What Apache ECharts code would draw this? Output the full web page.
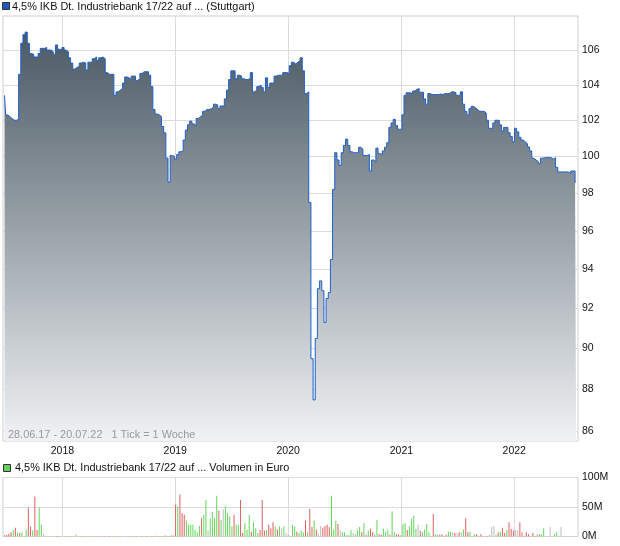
<!DOCTYPE html>
<html>
<head>
<meta charset="utf-8">
<script src="https://cdn.jsdelivr.net/npm/echarts@6/dist/echarts.min.js"></script>
<style>
html,body{margin:0;padding:0;background:#fff;}
#c{width:620px;height:546px;}
</style>
</head>
<body>
<div id="c"></div>
<script>
// ---- data (weekly, starting 28.06.2017) ----
const startDate = [2017, 5, 28];
const title = '4,5% IKB Dt. Industriebank 17/22 auf ... (Stuttgart)';
const volTitle = '4,5% IKB Dt. Industriebank 17/22 auf ... Volumen in Euro';
const rangeText = '28.06.17 - 20.07.22   1 Tick = 1 Woche';
const yearTicks = [2018, 2019, 2020, 2021, 2022];
const priceTicks = [86, 88, 90, 92, 94, 96, 98, 100, 102, 104, 106];
const volTicks = [0, 50, 100];

const prices = [
103.4,102.3,102.2,102.1,102.0,102.0,102.05,104.6,106.4,106.9,
107.05,106.4,105.8,105.75,105.6,105.6,105.8,106.1,106.1,106.15,
106.0,106.0,105.9,105.75,106.3,106.05,106.0,106.15,106.0,105.9,
105.55,105.25,104.9,105.0,105.05,105.25,105.3,105.25,104.85,105.3,
105.3,105.5,105.6,105.4,105.55,105.6,105.5,104.7,104.6,104.6,
104.6,103.4,103.6,103.7,103.8,104.1,104.45,104.4,104.3,104.5,
104.5,104.25,104.35,104.65,104.75,104.75,104.75,104.55,103.9,102.6,
102.35,102.3,102.2,101.65,101.3,99.9,98.6,100.05,100.0,99.85,
100.1,100.25,100.3,100.9,101.45,101.75,101.95,101.8,101.7,102.1,
102.2,102.3,102.5,102.6,102.6,102.65,102.75,102.9,102.85,102.65,
102.8,102.8,103.2,103.7,104.3,104.8,104.8,104.35,104.55,104.5,
104.35,104.3,104.3,104.38,104.7,103.6,103.7,103.9,103.98,103.85,
103.6,104.4,103.85,104.1,104.1,104.5,104.55,104.55,104.55,104.7,
104.7,104.65,105.1,105.3,105.2,105.3,105.4,105.55,104.8,103.5,
103.6,97.5,89.5,87.5,90.5,93.0,93.4,92.9,91.3,92.5,
92.8,94.5,98.2,100.2,99.8,99.5,100.2,100.6,100.95,100.6,
100.25,100.2,100.2,100.2,100.5,100.4,100.05,100.05,100.1,99.2,
99.8,99.7,100.45,100.15,100.1,100.3,100.5,100.75,101.6,101.85,
102.05,101.7,101.5,101.5,102.3,103.4,103.55,103.55,103.5,103.65,
103.75,103.78,103.58,103.58,103.2,102.9,103.5,103.45,103.45,103.45,
103.45,103.48,103.45,103.5,103.5,103.5,103.6,103.6,103.55,103.4,
103.4,103.6,102.9,102.5,102.3,102.65,102.78,102.7,102.6,102.5,
102.5,102.5,102.4,102.0,101.55,101.55,101.85,102.0,102.0,101.75,
101.4,101.6,101.6,101.3,101.1,100.8,101.55,101.35,101.05,100.9,
100.8,100.7,100.52,100.3,99.9,99.8,99.72,99.6,99.9,99.93,
99.93,99.93,99.93,99.85,99.93,99.4,99.15,99.15,99.15,99.15,
99.15,99.05,99.2,99.2,98.6
];

// volume in millions of euro
const volumes = [
2,3,4.5,7,11,15,7,6,7,1,11,49,17,10,68,11,49,20,4.5,
1,0.8,1,0.6,1,0.8,1,1,0.6,1,
0.8,1,1,0.6,3,1,0.8,1,0.6,1,
1,0.8,1,0.6,1,1,0.8,1,0.6,1,
1,0.8,0.6,1,1,0.8,1,0.6,1,1,
0.8,1,1,0.6,1,0.8,1,1,0.6,1,
1,1.2,1,0.8,1,1.5,1.2,1,1.5,2,
54,51,71,40,37,27,20,20,20,11,
7,18,31,37,62,10,31,42,31,69,
44,28,46,51,40,34,17,37,20,20,
62,6,23,11,37,8,24,14,6,11,
62,10,11,20,14,24,17,12,17,14,
17,6,2,1,20,17,8,6,10,7,
27,8,
47,16,27,12,5,18,15,18,20,16,
69,12,27,21,11,7,7,2,2,11,
6,4,10,16,7,23,3,10,13,7,
3,28,4,3,13,8,11,3,43,8,
4,4,2,21,23,11,17,30,35,13,
20,10,7,12,21,7,1,38,4,3,
3,4,1,3,8,8,7,6,6,7,
7,12,31,7,8,1,4,4,1,4,
1,0.5,1,2,16,18,3,7,8,15,
6,11,24,13,10,11,10,24,7,1,
7,4,1,6,1,4,4,4,14,0.5,
0.5,16,0.5,4,7,0.5,16,0.5,0.5,0.5,
1,0.5,0.5,0.5
];

// week direction: r = down, g = up, n = unchanged
const directions =
'rrrrgrgrgggrrgrrggn' +
'rgrrgrrgrr' + 'grgrgrgrrg' + 'rgrgrrgrgr' + 'rgrrgrgrrg' + 'grrgrgrrgr' + 'rgrgrrgrrg' +
'rgrrrggggg' + 'ggrggngggg' + 'rgnggggrgg' + 'rrgggrgggr' + 'rrgrrrgrgn' + 'gnrgggrggg' + 'rg' +
'rrgrnnrrrr' + 'gggrngggrg' + 'ngggrgrgrr' + 'ggrrgggrgg' + 'rrgggrgggg' + 'nrggggrrgg' +
'rrgrggnrnr' + 'ngrrgrgrgr' + 'rgrrnngrgr' + 'rgrrrnnrrr' + 'rrgrrgrggg' + 'rnrggrnrgr' + 'rgrr';

// ---- build ----
const DAY = 86400000;
const t0 = new Date(startDate[0], startDate[1], startDate[2]).getTime();
const dates = prices.map((_, i) => t0 + i * 7 * DAY);
const xMin = new Date(2017, 5, 23).getTime();
const xMax = new Date(2022, 6, 26).getTime();
const yearValues = yearTicks.map(y => new Date(y, 0, 1).getTime());
const lnTicks = priceTicks.map(v => Math.log(v));
const colorMap = { r: '#e06060', g: '#62d65a', n: '#bdbdbd' };
const font = "'Liberation Sans', Arial, sans-serif";
const fontCss = "10.9px 'Liberation Sans', Arial, sans-serif";

const chart = echarts.init(document.getElementById('c'), null, { renderer: 'canvas' });
chart.setOption({
  animation: false,
  backgroundColor: '#fff',
  textStyle: { fontFamily: font },
  grid: [
    { left: 3, right: 42, top: 16, height: 425, show: true, borderColor: '#cfcfcf', borderWidth: 1, backgroundColor: 'transparent' },
    { left: 3, right: 42, top: 477.5, height: 59, show: true, borderColor: '#cfcfcf', borderWidth: 1, backgroundColor: 'transparent' }
  ],
  xAxis: [
    {
      type: 'value', gridIndex: 0, min: xMin, max: xMax, scale: true,
      axisLine: { show: false },
      axisTick: { show: false, customValues: yearValues },
      axisLabel: { customValues: yearValues, formatter: v => String(new Date(v).getFullYear()), color: '#111', fontSize: 10.5, fontFamily: font, margin: 5 },
      splitLine: { show: true, lineStyle: { color: '#dcdcdc', width: 1 } }
    },
    {
      type: 'value', gridIndex: 1, min: xMin, max: xMax, scale: true,
      axisLine: { show: false },
      axisTick: { show: false, customValues: yearValues },
      axisLabel: { show: false, customValues: yearValues },
      splitLine: { show: true, lineStyle: { color: '#dcdcdc', width: 1 } }
    }
  ],
  yAxis: [
    {
      type: 'value', gridIndex: 0, position: 'right', scale: true,
      min: Math.log(85.55), max: Math.log(108.0),
      axisLine: { show: false },
      axisTick: { show: false, customValues: lnTicks },
      axisLabel: { customValues: lnTicks, formatter: v => String(Math.round(Math.exp(v))), color: '#111', fontSize: 10.5, fontFamily: font, margin: 4 },
      splitLine: { show: true, lineStyle: { color: '#dcdcdc', width: 1 } }
    },
    {
      type: 'value', gridIndex: 1, position: 'right',
      min: 0, max: 100,
      axisLine: { show: false },
      axisTick: { show: false, customValues: volTicks },
      axisLabel: { customValues: volTicks, formatter: v => v + 'M', color: '#111', fontSize: 10.5, fontFamily: font, margin: 4 },
      splitLine: { show: true, lineStyle: { color: '#dcdcdc', width: 1 } }
    }
  ],
  series: [
    {
      type: 'line', xAxisIndex: 0, yAxisIndex: 0,
      data: prices.map((p, i) => [dates[i], Math.log(p)]),
      showSymbol: false, symbol: 'none', step: 'middle',
      lineStyle: { color: '#1f5fcc', width: 1 },
      areaStyle: {
        origin: 'start', opacity: 1,
        color: new echarts.graphic.LinearGradient(0, 0, 0, 1, [
          { offset: 0, color: '#4a5964' },
          { offset: 1, color: '#f0f2f4' }
        ])
      }
    },
    {
      type: 'bar', xAxisIndex: 1, yAxisIndex: 1, barWidth: 1,
      data: volumes.map((v, i) => ({ value: [dates[i], v], itemStyle: { color: colorMap[directions[i]] || '#bdbdbd' } }))
    }
  ],
  graphic: [
    { type: 'rect', z: 100, shape: { x: 2.5, y: 2.5, width: 7, height: 7 }, style: { fill: '#2257bd', stroke: '#333', lineWidth: 1 } },
    { type: 'text', z: 100, x: 12, y: 7, style: { text: title, font: fontCss, fill: '#111', textVerticalAlign: 'middle' } },
    { type: 'text', z: 100, x: 8, y: 435, style: { text: rangeText, font: fontCss, fill: '#9a9a9a', textVerticalAlign: 'middle' } },
    { type: 'rect', z: 100, shape: { x: 3.5, y: 464.5, width: 7, height: 7 }, style: { fill: '#66d05e', stroke: '#333', lineWidth: 1 } },
    { type: 'text', z: 100, x: 15, y: 468, style: { text: volTitle, font: fontCss, fill: '#111', textVerticalAlign: 'middle' } }
  ]
});
</script>
</body>
</html>
